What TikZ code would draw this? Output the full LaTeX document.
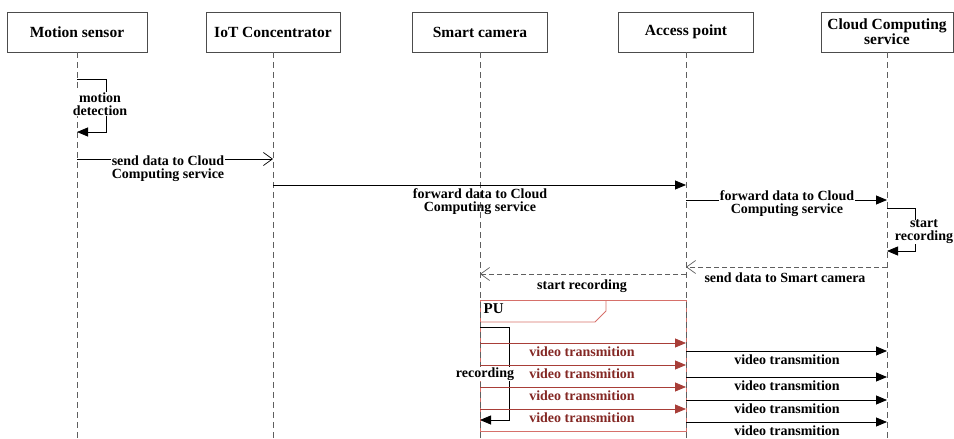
\documentclass[tikz,border=0pt]{standalone}
\usepackage{fontspec}
\setmainfont{Liberation Serif}
\usetikzlibrary{arrows.meta}

\definecolor{lifegray}{RGB}{95,95,95}
\definecolor{pured}{RGB}{214,112,106}
\definecolor{vidred}{RGB}{168,62,56}
\definecolor{vidtext}{RGB}{132,40,36}

\begin{document}
\begin{tikzpicture}[x=1pt,y=-1pt,
    head/.style={draw=black!70,line width=0.9pt,minimum height=40pt,inner sep=1pt,
      align=center,font=\bfseries\fontsize{15.5}{14}\selectfont},
    life/.style={lifegray,line width=0.8pt,dash pattern=on 6pt off 4pt},
    msg/.style={black,line width=0.8pt,-{Triangle[length=11pt,width=9pt]}},
    ans/.style={black,line width=0.8pt,-{Straight Barb[length=9pt,width=13pt,line width=0.7pt]}},
    back/.style={lifegray,line width=0.8pt,dash pattern=on 5pt off 3pt,
      -{Straight Barb[length=9pt,width=13pt,line width=0.7pt]}},
    vid/.style={vidred,line width=0.8pt,-{Triangle[length=11pt,width=9pt]}},
    lbl/.style={align=center,inner sep=0.5pt,font=\bfseries\fontsize{14}{13}\selectfont},
    vlbl/.style={lbl,text=vidtext}]
    \useasboundingbox (0,0) rectangle (954,439);

    % participants
    \node[head,minimum width=140pt] (ms) at (77,32) {Motion sensor};
    \node[head,minimum width=134pt] (iot) at (273,32) {IoT Concentrator};
    \node[head,minimum width=135pt] (cam) at (480,32) {Smart camera};
    \node[head,minimum width=135pt] (ap) at (686,32) {Access point};
    \node[head,minimum width=132pt] (cloud) at (887,32) {Cloud Computing\\service};

    % levels
    \coordinate (bot) at (0,439);
    \coordinate (md1) at (0,79);
    \coordinate (md2) at (0,132);
    \coordinate (s1) at (0,159);
    \coordinate (f1) at (0,185);
    \coordinate (f2) at (0,200);
    \coordinate (sr1) at (0,208);
    \coordinate (sr2) at (0,251);
    \coordinate (sd) at (0,267);
    \coordinate (st) at (0,274);
    \coordinate (pu1) at (0,300);
    \coordinate (pu2) at (0,431);
    \coordinate (rc1) at (0,327);
    \coordinate (rc2) at (0,420);

    % PU fragment
    \draw[pured,line width=0.9pt] (cam |- pu1) rectangle (ap |- pu2);
    \draw[pured,line width=0.9pt] (cam |- 0,322) -- (595,322) -- (606,311) -- (606,300);
    \node[lbl,anchor=west,font=\bfseries\fontsize{15}{15}\selectfont] (pu) at (483,309) {PU};

    \foreach \p in {ms,iot,cam,ap,cloud}
      \draw[life] (\p.south) -- (\p.south |- bot);

    % messages
    \draw[msg] (ms |- md1) -- ++(29,0) |- (ms |- md2);
    \node[lbl,fill=white] (mdl) at (100,104) {motion\\detection};

    \draw[ans] (ms |- s1) -- (iot |- s1);
    \node[lbl,fill=white] (s1l) at (168,169) {send data to Cloud\\Computing service};

    \draw[msg] (iot |- f1) -- (ap |- f1);
    \node[lbl] (f1l) at (480,202) {forward data to Cloud\\Computing service};

    \draw[msg] (ap |- f2) -- (cloud |- f2);
    \node[lbl,fill=white] (f2l) at (787,203.5) {forward data to Cloud\\Computing service};

    \draw[msg] (cloud |- sr1) -- ++(28,0) |- (cloud |- sr2);
    \node[lbl,fill=white] (srl) at (924,232) {start\\recording};

    \draw[back] (cloud |- sd) -- (ap |- sd);
    \node[lbl] (sdl) at (785,278) {send data to Smart camera};

    \draw[back] (ap |- st) -- (cam |- st);
    \node[lbl] (stl) at (582,286) {start recording};

    \draw[msg] (cam |- rc1) -- ++(29,0) |- (cam |- rc2);
    \node[lbl,fill=white] (rcl) at (485,374) {recording};

    % video streams
    \foreach \r/\b [count=\i] in {343/351,365/377,387/400,409/422}{
      \coordinate (vr\i) at (0,\r);
      \coordinate (vb\i) at (0,\b);
      \draw[vid] (cam |- vr\i) -- (ap |- vr\i);
      \node[vlbl] (vrl\i) at (582,\r+8.5) {video transmition};
      \draw[msg] (ap |- vb\i) -- (cloud |- vb\i);
      \node[lbl] (vbl\i) at (787,\b+8.5) {video transmition};
    }
\end{tikzpicture}
\end{document}
